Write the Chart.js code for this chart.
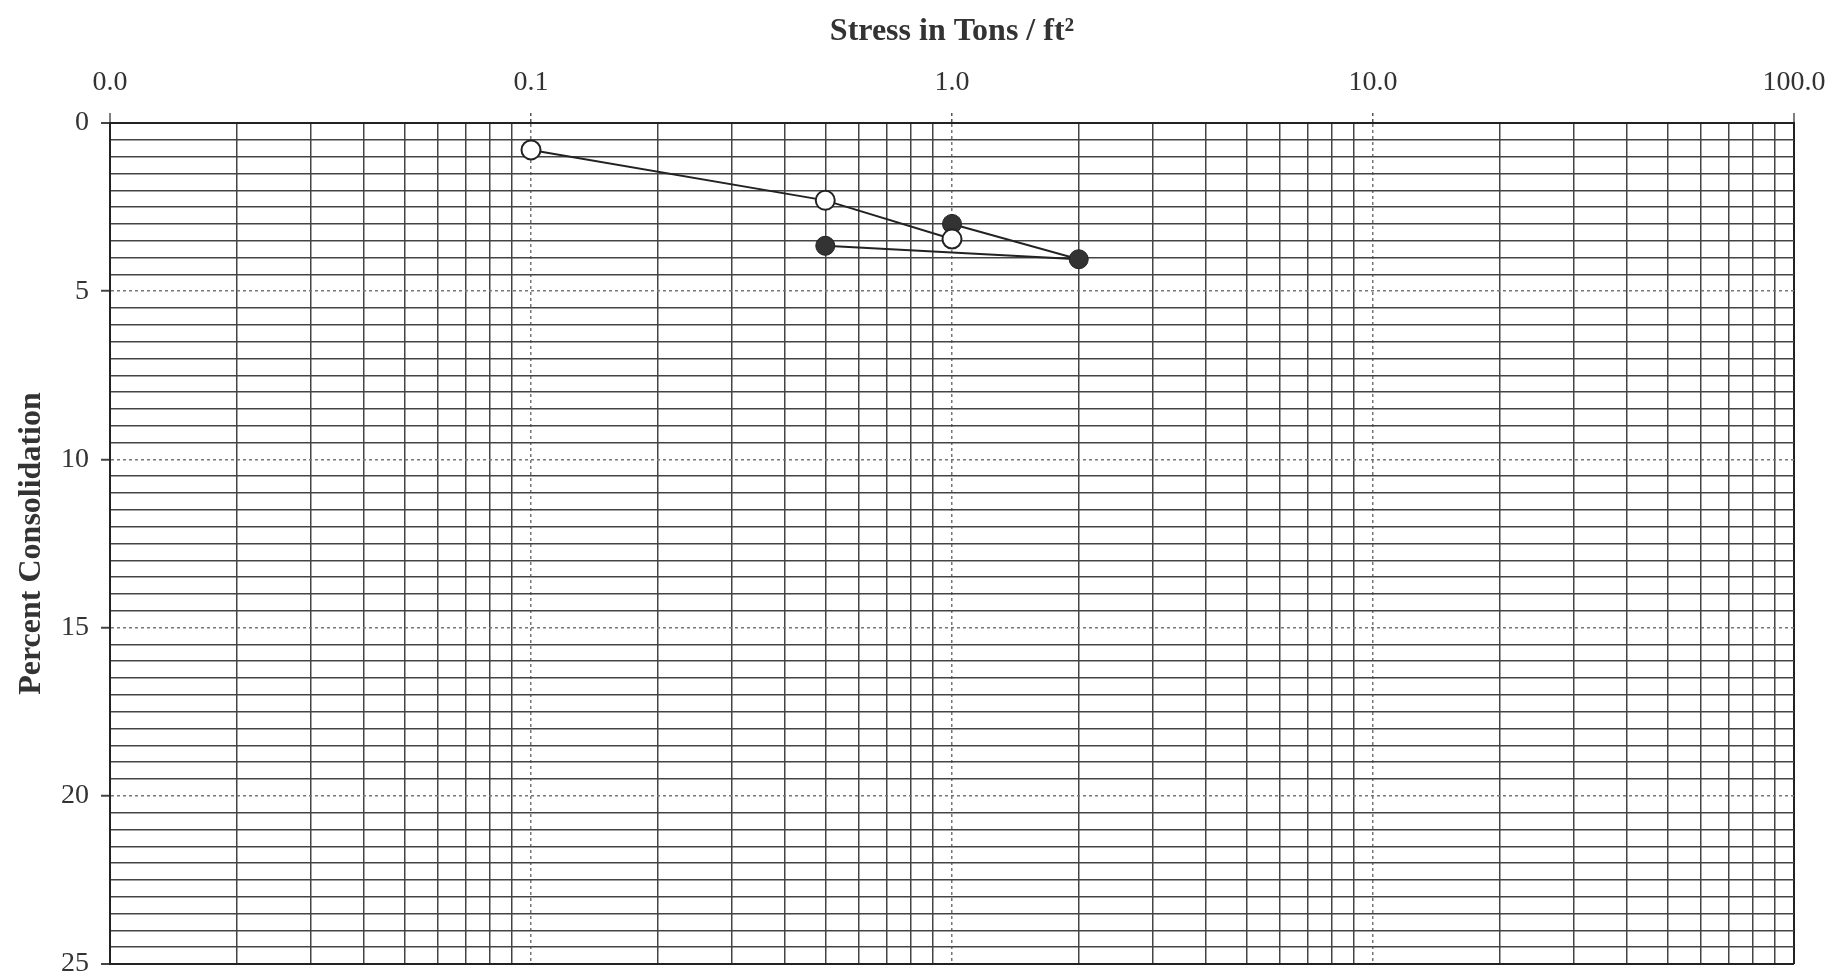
<!DOCTYPE html>
<html>
<head>
<meta charset="utf-8">
<script src="https://cdn.jsdelivr.net/npm/chart.js@4"></script>
<style>
  html, body { margin: 0; padding: 0; background: #fff; }
  #wrap { width: 1848px; height: 978px; }
</style>
</head>
<body>
<div id="wrap"><canvas id="consolChart" width="1848" height="978"></canvas></div>
<script>
// data
const openStress = [0.1, 0.5, 1.0];
const openConsol = [0.8, 2.3, 3.45];
const filledStress = [1.0, 2.0, 0.5];
const filledConsol = [3.0, 4.05, 3.65];

// axis ticks
const decadeValues = [0.01, 0.1, 1, 10, 100];
const decadeLabels = ['0.0', '0.1', '1.0', '10.0', '100.0'];
const minorSteps = [2, 3, 4, 5, 6, 7, 8, 9];
const yMajor = [0, 5, 10, 15, 20, 25];
const yStep = 0.5;

const FONT = "'Liberation Serif', 'Times New Roman', serif";
const INK = '#333';
const GRID = '#444';

function isDecade(v) {
  return decadeValues.some(d => Math.abs(v - d) / d < 1e-6);
}
function isYMajor(v) {
  return yMajor.some(m => Math.abs(v - m) < 1e-6);
}

// x grid: every 1..9 of each decade
const xTicks = [];
decadeValues.forEach((d, i) => {
  xTicks.push(d);
  if (i < decadeValues.length - 1) minorSteps.forEach(m => xTicks.push(d * m));
});
const yTicks = [];
for (let v = 0; v <= 25 + 1e-9; v += yStep) yTicks.push(Math.round(v * 10) / 10);

function toPoints(xs, ys) {
  return xs.map((x, i) => ({ x: x, y: ys[i] }));
}

new Chart(document.getElementById('consolChart'), {
  type: 'scatter',
  data: {
    datasets: [
      {
        label: 'open',
        data: toPoints(openStress, openConsol),
        showLine: true,
        borderColor: '#222',
        borderWidth: 2,
        pointRadius: 9.5,
        pointBorderWidth: 2,
        pointBackgroundColor: '#fff',
        pointBorderColor: '#222'
      },
      {
        label: 'filled',
        data: toPoints(filledStress, filledConsol),
        showLine: true,
        borderColor: '#222',
        borderWidth: 2,
        pointRadius: 9.5,
        pointBorderWidth: 1,
        pointBackgroundColor: '#333',
        pointBorderColor: '#222'
      }
    ]
  },
  options: {
    responsive: false,
    animation: false,
    layout: { padding: { top: 0, right: 54, bottom: 14, left: 0 } },
    plugins: {
      legend: { display: false },
      tooltip: { enabled: false }
    },
    scales: {
      x: {
        type: 'logarithmic',
        position: 'top',
        min: 0.01,
        max: 100,
        afterBuildTicks: axis => { axis.ticks = xTicks.map(v => ({ value: v })); },
        afterFit: axis => { axis.height = 123; },
        ticks: {
          autoSkip: false,
          maxRotation: 0,
          padding: 14,
          color: INK,
          font: { family: FONT, size: 28 },
          callback: v => {
            const i = decadeValues.findIndex(d => Math.abs(v - d) / d < 1e-6);
            return i >= 0 ? decadeLabels[i] : '';
          }
        },
        grid: {
          color: c => {
            const v = c.tick ? c.tick.value : 0;
            if (v <= 0.0100001 || v >= 99.999) return '#222';
            return isDecade(v) ? '#777' : GRID;
          },
          lineWidth: c => {
            const v = c.tick ? c.tick.value : 0;
            if (v <= 0.0100001 || v >= 99.999) return 2;
            return 1.5;
          },
          tickLength: 10,
          tickColor: c => (c.tick && isDecade(c.tick.value)) ? '#555' : 'rgba(0,0,0,0)',
          tickWidth: 1.5,
          tickBorderDash: c => (c.tick && isDecade(c.tick.value) && c.tick.value > 0.011 && c.tick.value < 99) ? [3, 3] : []
        },
        border: {
          display: true,
          color: '#222',
          width: 2,
          dash: c => {
            if (!c.tick) return [];
            const v = c.tick.value;
            return (isDecade(v) && v > 0.011 && v < 99) ? [3, 3] : [];
          }
        },
        title: {
          display: true,
          text: 'Stress in Tons / ft²',
          color: INK,
          font: { family: FONT, size: 32, weight: 'bold' },
          padding: { top: 13, bottom: 0 }
        }
      },
      y: {
        type: 'linear',
        reverse: true,
        min: 0,
        max: 25,
        afterBuildTicks: axis => { axis.ticks = yTicks.map(v => ({ value: v })); },
        afterFit: axis => {
          axis.width = 110;
          axis.paddingTop = 0;
          axis.paddingBottom = 0;
        },
        ticks: {
          autoSkip: false,
          padding: 12,
          color: INK,
          font: { family: FONT, size: 28 },
          callback: v => isYMajor(v) ? String(v) : ''
        },
        grid: {
          color: c => {
            const v = c.tick ? c.tick.value : 0;
            if (v <= 0.001 || v >= 24.999) return '#222';
            return isYMajor(v) ? '#777' : GRID;
          },
          lineWidth: c => {
            const v = c.tick ? c.tick.value : 0;
            if (v <= 0.001 || v >= 24.999) return 2;
            return 1.5;
          },
          tickLength: 9,
          tickColor: c => (c.tick && isYMajor(c.tick.value)) ? '#444' : 'rgba(0,0,0,0)',
          tickWidth: 2
        },
        border: {
          display: true,
          color: '#222',
          width: 2,
          dash: c => {
            if (!c.tick) return [];
            const v = c.tick.value;
            return (isYMajor(v) && v > 0.001 && v < 24.999) ? [3, 3] : [];
          }
        },
        title: {
          display: true,
          text: 'Percent Consolidation',
          color: INK,
          font: { family: FONT, size: 32, weight: 'bold' },
          padding: { top: 13, bottom: 0 }
        }
      }
    }
  }
});
</script>
</body>
</html>
